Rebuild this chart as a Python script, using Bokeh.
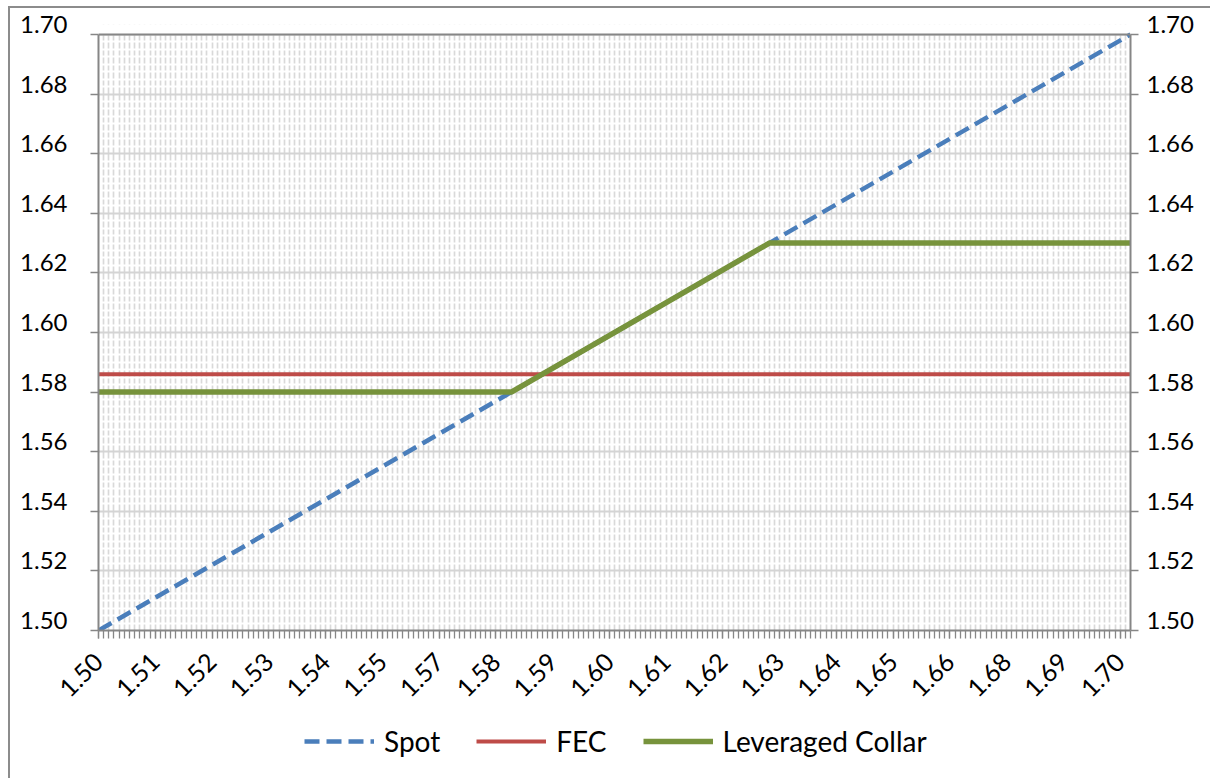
import numpy as np
from bokeh.plotting import figure
from bokeh.layouts import column
from bokeh.models import (Range1d, LinearAxis, FixedTicker, Legend, LegendItem,
                          BoxAnnotation, Span)
from bokeh.embed import file_html
from bokeh.resources import INLINE

# ---------------- data ----------------
spot_x = [1.50, 1.70]
spot_y = [1.50, 1.70]
fec_x = [1.50, 1.70]
fec_y = [1.586, 1.586]
collar_x = [1.50, 1.58, 1.63, 1.70]
collar_y = [1.58, 1.58, 1.63, 1.63]
series_names = ["Spot", "FEC", "Leveraged Collar"]

x_tick_values = [1.500, 1.511, 1.522, 1.533, 1.544, 1.555, 1.566, 1.577, 1.588, 1.599,
                 1.610, 1.621, 1.632, 1.643, 1.654, 1.665, 1.676, 1.687, 1.698]
x_tick_labels = ["1.50", "1.51", "1.52", "1.53", "1.54", "1.55", "1.57", "1.58", "1.59", "1.60",
                 "1.61", "1.62", "1.63", "1.64", "1.65", "1.66", "1.68", "1.69", "1.70"]
y_tick_values = [1.50, 1.52, 1.54, 1.56, 1.58, 1.60, 1.62, 1.64, 1.66, 1.68, 1.70]
y_tick_labels = ["1.50", "1.52", "1.54", "1.56", "1.58", "1.60", "1.62", "1.64", "1.66", "1.68", "1.70"]
x_start, x_end, x_step = 1.50, 1.70, 0.001
y_start, y_end = 1.50, 1.70

# grid positions (one per category, minor horizontal every 1/8 of a major step)
cats = [round(x_start + k * x_step, 3) for k in range(int(round((x_end - x_start) / x_step)) + 1)]
y_minor = [round(y_start + k * 0.0025, 4) for k in range(81) if k % 8]

FONT = "Lato"
GREY = "#868686"
LIFT = 0.00335  # y labels sit slightly above their tick, as in the original
STYLES = [dict(line_color="#4A7EBB", line_width=4.5, line_dash="15 7"),
          dict(line_color="#BE4B48", line_width=4),
          dict(line_color="#77933C", line_width=5.5)]
SERIES = [(spot_x, spot_y), (fec_x, fec_y), (collar_x, collar_y)]

p = figure(width=1200, height=700, output_backend="svg", toolbar_location=None,
           x_range=Range1d(x_start, x_end), y_range=Range1d(y_start, y_end + LIFT),
           min_border_left=88, min_border_right=80, min_border_top=16, min_border_bottom=76,
           background_fill_color="white", border_fill_color="white")
p.extra_y_ranges = {"lab": Range1d(y_start - LIFT, y_end)}
p.outline_line_color = None

# grids
p.xgrid.ticker = FixedTicker(ticks=cats)
p.xgrid.grid_line_color = "#d9d9d9"
p.xgrid.grid_line_width = 1.7
p.ygrid.ticker = FixedTicker(ticks=y_tick_values, minor_ticks=y_minor)
p.ygrid.grid_line_color = "#d4d4d4"
p.ygrid.grid_line_width = 2
p.ygrid.minor_grid_line_color = "white"
p.ygrid.minor_grid_line_width = 2
# blank strip above the top of the plot area, and its top border
p.add_layout(BoxAnnotation(bottom=y_end, fill_color="white", fill_alpha=1.0,
                           line_color=None, level="underlay"))
p.add_layout(Span(location=y_end, dimension="width", line_color=GREY, line_width=2))

# x axis
xa = p.xaxis[0]
xa.ticker = FixedTicker(ticks=x_tick_values, minor_ticks=cats)
xa.major_label_overrides = {v: l for v, l in zip(x_tick_values, x_tick_labels)}
xa.major_label_orientation = np.pi / 4
xa.major_label_text_font = FONT
xa.major_label_text_font_size = "25px"
xa.major_label_text_color = "black"
xa.major_label_standoff = 19
xa.axis_line_color = GREY
xa.axis_line_width = 2
xa.major_tick_line_color = GREY
xa.minor_tick_line_color = GREY
xa.major_tick_line_width = 1.3
xa.minor_tick_line_width = 1.3
xa.major_tick_in = 0
xa.major_tick_out = 8
xa.minor_tick_in = 0
xa.minor_tick_out = 8

# y axes: one carries the ticks, one carries the labels
def tick_axis(ax):
    ax.ticker = FixedTicker(ticks=y_tick_values, minor_ticks=[])
    ax.bounds = (y_start, y_end)
    ax.axis_line_color = GREY
    ax.axis_line_width = 2
    ax.major_tick_line_color = GREY
    ax.major_tick_line_width = 1.5
    ax.major_tick_in = 0
    ax.major_tick_out = 8
    ax.minor_tick_line_color = None
    ax.major_label_text_color = None
    ax.major_label_text_font_size = "0px"
    ax.major_label_standoff = 0

def label_axis(standoff):
    ax = LinearAxis(y_range_name="lab",
                    ticker=FixedTicker(ticks=y_tick_values, minor_ticks=[]))
    ax.major_label_overrides = {v: l for v, l in zip(y_tick_values, y_tick_labels)}
    ax.axis_line_color = None
    ax.major_tick_line_color = None
    ax.minor_tick_line_color = None
    ax.major_tick_in = 0
    ax.major_tick_out = 0
    ax.minor_tick_in = 0
    ax.minor_tick_out = 0
    ax.major_label_standoff = standoff
    ax.major_label_text_font = FONT
    ax.major_label_text_font_size = "24px"
    ax.major_label_text_color = "black"
    return ax

tick_axis(p.yaxis[0])
p.add_layout(label_axis(23), "left")
ry = LinearAxis()
tick_axis(ry)
p.add_layout(ry, "right")
p.add_layout(label_axis(8), "right")

# series
for (xs, ys), st in zip(SERIES, STYLES):
    p.line(xs, ys, **st)

# legend strip below the chart (its proxy lines lie outside this strip's ranges)
lg = figure(width=1200, height=70, output_backend="svg", toolbar_location=None,
            x_range=Range1d(0, 1), y_range=Range1d(0, 1),
            x_axis_location=None, y_axis_location=None,
            min_border_left=0, min_border_right=0, min_border_top=0, min_border_bottom=0,
            background_fill_color="white", border_fill_color="white")
lg.outline_line_color = None
lg.xgrid.visible = False
lg.ygrid.visible = False
proxies = [lg.line(xs, ys, **st) for (xs, ys), st in zip(SERIES, STYLES)]
legend = Legend(items=[LegendItem(label=n, renderers=[r]) for n, r in zip(series_names, proxies)],
                orientation="horizontal", location=(206, 20),
                glyph_width=70, glyph_height=20, label_standoff=10, spacing=36,
                padding=0, margin=0, border_line_color=None, background_fill_alpha=0,
                label_text_font=FONT, label_text_font_size="28px", label_text_color="black")
lg.add_layout(legend, "center")

layout = column(p, lg, spacing=0)
layout.styles = {"margin-left": "8px", "margin-top": "6px",
                 "border-left": "2px solid #8c8c8c", "border-top": "2px solid #8c8c8c"}

open("out.html", "w").write(file_html(layout, INLINE))
